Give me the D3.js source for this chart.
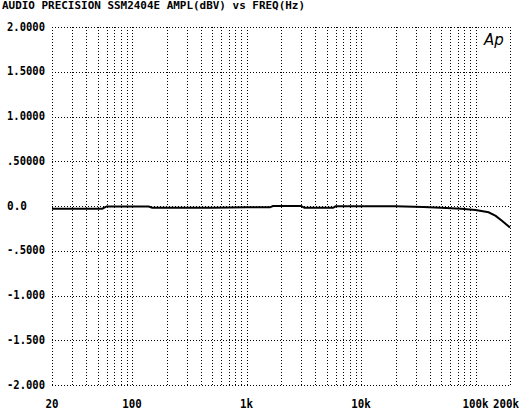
<!DOCTYPE html>
<html>
<head>
<meta charset="utf-8">
<script src="https://cdn.jsdelivr.net/npm/d3@7"></script>
<style>
  html, body { margin: 0; padding: 0; background: #fff; }
  svg { display: block; }
  text.lbl { font-family: "DejaVu Sans Mono", monospace; font-weight: bold; fill: #000; }
</style>
</head>
<body>
<svg id="chart" width="520" height="415"></svg>
<script>
const title = "AUDIO PRECISION SSM2404E AMPL(dBV) vs FREQ(Hz)";
const freq = [20, 40, 55, 60, 100, 140, 150, 500, 1000, 1600, 1700, 3000, 3200, 5700, 6000, 20000, 35000, 50000, 75000, 100000, 130000, 150000, 170000, 200000];
const ampl = [-0.03, -0.03, -0.03, -0.005, -0.005, -0.005, -0.02, -0.02, -0.015, -0.015, 0.0, 0.0, -0.02, -0.02, -0.004, -0.004, -0.012, -0.02, -0.032, -0.045, -0.07, -0.11, -0.165, -0.24];
const xTickValues = [20, 100, 1000, 10000, 100000, 200000];
const xTickLabels = ["20", "100", "1k", "10k", "100k", "200k"];
const yTickValues = [2, 1.5, 1, 0.5, 0, -0.5, -1, -1.5, -2];
const yTickLabels = ["2.0000", "1.5000", "1.0000", ".50000", "0.0", "-.5000", "-1.000", "-1.500", "-2.000"];

const svg = d3.select("#chart");
const mLeft = 52, mRight = 510, mTop = 27, mBottom = 385;

const x = d3.scaleLog().domain([20, 200000]).range([mLeft, mRight]);
const y = d3.scaleLinear().domain([-2, 2]).range([mBottom, mTop]);

// title
svg.append("text").attr("class", "lbl")
  .attr("x", 2).attr("y", 9)
  .attr("font-size", 10.5)
  .attr("textLength", 303)
  .attr("lengthAdjust", "spacingAndGlyphs")
  .text(title);

// vertical grid
const vg = svg.append("g").attr("transform", `translate(0,${mBottom})`)
  .call(d3.axisBottom(x).tickValues(x.ticks()).tickSize(-(mBottom - mTop)).tickFormat(""));
vg.select(".domain").remove();
vg.selectAll(".tick line").attr("stroke", "#000").attr("stroke-width", 1).attr("stroke-dasharray", "1,2").attr("shape-rendering", "crispEdges");

// horizontal grid
const hg = svg.append("g").attr("transform", `translate(${mLeft},0)`)
  .call(d3.axisLeft(y).tickValues(yTickValues).tickSize(-(mRight - mLeft)).tickFormat(""));
hg.select(".domain").remove();
hg.selectAll(".tick line").attr("stroke", "#000").attr("stroke-width", 1).attr("stroke-dasharray", "1,2").attr("shape-rendering", "crispEdges");

// y labels
yTickValues.forEach((v, i) => {
  const lbl = yTickLabels[i];
  const short = lbl.length < 4;
  svg.append("text").attr("class", "lbl")
    .attr("x", short ? 7 : 45)
    .attr("y", y(v) + 3.5)
    .attr("text-anchor", short ? "start" : "end")
    .attr("font-size", 11.5)
    .attr("textLength", short ? 20 : 38)
    .attr("lengthAdjust", "spacingAndGlyphs")
    .text(lbl);
});

// x labels
xTickValues.forEach((v, i) => {
  const lbl = xTickLabels[i];
  const last = i === xTickValues.length - 1;
  svg.append("text").attr("class", "lbl")
    .attr("x", last ? 519 : x(v))
    .attr("y", 408)
    .attr("text-anchor", last ? "end" : "middle")
    .attr("font-size", 11.5)
    .attr("textLength", lbl.length * 6.5)
    .attr("lengthAdjust", "spacingAndGlyphs")
    .text(lbl);
});

// curve
const pts = freq.map((f, i) => [f, ampl[i]]);
svg.append("path")
  .datum(pts)
  .attr("fill", "none")
  .attr("stroke", "#000")
  .attr("stroke-width", 2)
  .attr("d", d3.line().x(d => x(d[0])).y(d => y(d[1])));

// Ap logo
svg.append("text")
  .attr("x", 484).attr("y", 45)
  .style("font-family", "'DejaVu Sans', sans-serif")
  .style("font-weight", "normal")
  .style("font-style", "italic")
  .style("font-size", "15px")
  .style("fill", "#000")
  .text("Ap");
</script>
</body>
</html>
